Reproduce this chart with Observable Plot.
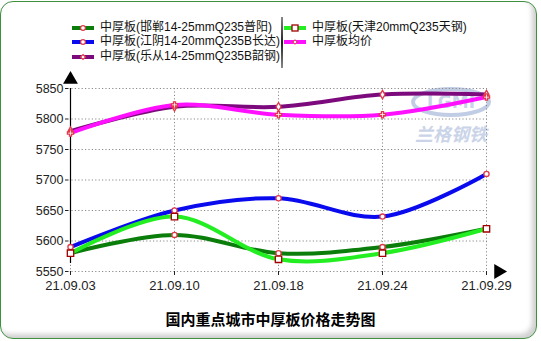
<!DOCTYPE html>
<html>
<head>
<meta charset="utf-8">
<script src="https://cdn.jsdelivr.net/npm/d3@7"></script>
<script src="https://cdn.jsdelivr.net/npm/@observablehq/plot@0.6"></script>
<style>
  html, body { margin: 0; padding: 0; background: #fff; }
  #wrap { position: relative; width: 541px; height: 341px; overflow: hidden; font-family: "Liberation Sans", Arial, "Noto Sans CJK SC", sans-serif; }
  #frame { position: absolute; left: 0px; top: 1px; width: 535px; height: 336px; border: 1.5px solid #3f8f3f; border-radius: 13px; box-shadow: inset -4px -4px 5px #d0d0d0; background: #fff; }
  #wm { position: absolute; left: 410px; top: 86px; width: 82px; height: 64px; opacity: 0.55; }
  #chart { position: absolute; left: 0; top: 0; }
  .leg { position: absolute; font-size: 12px; color: #111; white-space: nowrap; font-family: "Liberation Sans", "Noto Sans CJK SC", sans-serif; line-height: 13px; height: 13px; }
  .leg svg { position: absolute; left: -28px; top: 3px; }
  #sep { position: absolute; left: 281px; top: 17px; width: 2px; height: 51px; background: linear-gradient(#888, #222, #888); }
  #title { position: absolute; left: 0; width: 541px; top: 308px; text-align: center; font-size: 15px; font-weight: bold; font-family: "Noto Sans CJK SC", sans-serif; color: #000; }
</style>
</head>
<body>
<div id="wrap">
  <div id="frame"></div>
  <svg id="wm" viewBox="0 0 82 64">
    <ellipse cx="41" cy="16" rx="38" ry="13" fill="none" stroke="#8fa6cf" stroke-width="4"/>
    <text x="41" y="22" text-anchor="middle" font-size="17" font-weight="bold" fill="#9fb2d6" font-family="DejaVu Sans">LGMI</text>
    <text x="41" y="55" text-anchor="middle" font-size="18" font-weight="bold" font-style="italic" fill="#9fb2d6" font-family="Noto Sans CJK SC">兰格钢铁</text>
  </svg>
  <div id="chart"></div>
  <div id="sep"></div>
  <div id="title">国内重点城市中厚板价格走势图</div>
</div>
<script>
const dates = ["21.09.03", "21.09.10", "21.09.18", "21.09.24", "21.09.29"];
const seriesNames = [
  "中厚板(邯郸14-25mmQ235普阳)",
  "中厚板(江阴14-20mmQ235B长达)",
  "中厚板(乐从14-25mmQ235B韶钢)",
  "中厚板(天津20mmQ235天钢)",
  "中厚板均价"
];
const handan   = [5580, 5610, 5580, 5590, 5620];
const jiangyin = [5590, 5650, 5670, 5640, 5710];
const lecong   = [5780, 5820, 5820, 5840, 5840];
const tianjin  = [5580, 5640, 5570, 5580, 5620];
const average  = [5777, 5823, 5807, 5807, 5836];
const yTicks = [5550, 5600, 5650, 5700, 5750, 5800, 5850];

const seriesValues = [handan, jiangyin, lecong, tianjin, average];
const colors = ["#0a7d0a", "#0a0aee", "#7d0a7d", "#22ee22", "#ff10ff"];
const symbols = ["circle", "circle", "diamond", "square", "cross"];
const markR = [2.6, 2.6, 2.6, 3.6, 2.6];

const rows = [];
seriesNames.forEach((name, i) => {
  dates.forEach((d, j) => rows.push({series: name, idx: i, date: d, value: seriesValues[i][j]}));
});

const grid = {stroke: "#8a8a8a", strokeOpacity: 1, strokeDasharray: "1.2,2.2", strokeWidth: 1};
const marks = [
  Plot.gridY(yTicks, grid),
  Plot.gridX(dates, grid),
  Plot.axisY(yTicks, {tickSize: 3, tickPadding: 2, fontSize: 12.5, label: null, tickFormat: d => String(d)}),
  Plot.axisX(dates, {tickSize: 4, tickPadding: 5, fontSize: 13, label: null}),
  Plot.ruleX([dates[0]], {y1: 5550, y2: 5850, insetTop: -8, stroke: "#000", strokeWidth: 1.2}),
  Plot.ruleY([5550], {x1: dates[0], x2: dates[dates.length - 1], insetRight: -8, stroke: "#000", strokeWidth: 1.2}),
  Plot.dot([dates[0]], {x: d => d, y: () => 5850, dy: -9, symbol: "triangle", r: 5.5, fill: "#000", stroke: null}),
  Plot.dot([dates[dates.length - 1]], {x: d => d, y: () => 5550, dx: 12, symbol: "triangle", r: 5.5, rotate: 90, fill: "#000", stroke: null})
];
seriesNames.forEach((name, i) => {
  const data = rows.filter(r => r.idx === i);
  marks.push(Plot.line(data, {x: "date", y: "value", stroke: colors[i], strokeWidth: 4, curve: "catmull-rom"}));
});
seriesNames.forEach((name, i) => {
  const data = rows.filter(r => r.idx === i);
  marks.push(Plot.dot(data, {x: "date", y: "value", symbol: symbols[i], r: markR[i], fill: "#fff", stroke: i === 3 ? "#a00000" : "#e03a4a", strokeWidth: 1.3}));
});

const chart = Plot.plot({
  width: 541,
  height: 341,
  marginLeft: 68,
  marginRight: 54,
  marginTop: 88,
  marginBottom: 70,
  style: {background: "transparent", fontFamily: "'Liberation Sans', Arial, sans-serif", color: "#222", overflow: "visible"},
  x: {type: "point", domain: dates, padding: 0},
  y: {domain: [5550, 5850]},
  marks
});
document.getElementById("chart").appendChild(chart);

// legend
const wrap = document.getElementById("wrap");
const legPos = [[100, 20.5], [100, 35], [100, 49.5], [312, 20.5], [312, 35]];
const symPath = {
  circle: '<circle cx="11" cy="4" r="2.4" fill="#fff" stroke="#e03a4a" stroke-width="1.2"/>',
  diamond: '<path d="M11 1.5 L13.5 4 L11 6.5 L8.5 4Z" fill="#fff" stroke="#e03a4a" stroke-width="1.1"/>',
  square: '<rect x="8" y="1" width="6" height="6" fill="#fff" stroke="#a00000" stroke-width="1.3"/>',
  cross: '<path d="M11 1.5 V6.5 M8.5 4 H13.5" stroke="#e03a4a" stroke-width="1.3"/><circle cx="11" cy="4" r="1.6" fill="#fff" stroke="#e03a4a" stroke-width="0.8"/>'
};
seriesNames.forEach((name, i) => {
  const el = document.createElement("div");
  el.className = "leg";
  el.style.left = legPos[i][0] + "px";
  el.style.top = legPos[i][1] + "px";
  el.innerHTML = `<svg width="23" height="8"><line x1="0" y1="4" x2="22" y2="4" stroke="${colors[i]}" stroke-width="4"/>${symPath[symbols[i]]}</svg>` + name;
  wrap.appendChild(el);
});
</script>
</body>
</html>
